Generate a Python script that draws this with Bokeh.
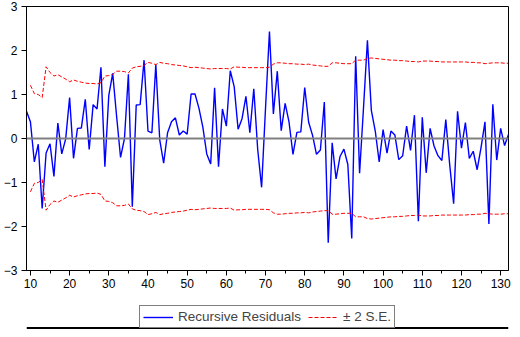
from bokeh.plotting import figure
from bokeh.layouts import column
from bokeh.models import Range1d, SingleIntervalTicker, Legend, LegendItem, Span
from bokeh.embed import file_html
from bokeh.resources import INLINE

# Observation index for the recursive residuals
obs = list(range(9, 133))
resid = [0.62, 0.38, -0.53, -0.13, -1.59, -0.33, -0.12, -0.86, 0.35, -0.35,
         -0.01, 0.93, -0.45, 0.23, 0.24, 0.89, -0.25, 0.77, 0.67, 1.62,
         -0.64, 0.98, 1.48, 0.5, -0.43, 0.0, 1.46, -1.55, 0.76, 0.77,
         1.78, 0.17, 0.13, 1.68, -0.03, -0.56, 0.13, 0.38, 0.47, 0.08,
         0.17, 0.1, 1.01, 1.01, 0.69, 0.26, -0.35, -0.58, 1.15, -0.64,
         0.67, 0.28, 1.54, 1.18, 0.21, 0.45, 0.96, 0.13, 1.13, -0.25,
         -1.11, 0.7, 2.43, 0.56, 1.53, 0.18, 0.8, 0.37, -0.36, 0.14,
         0.15, 1.16, 0.37, 0.07, -0.36, -0.26, 0.83, -2.37, -0.1, -0.92,
         -0.41, -0.24, -0.59, -2.27, 1.87, -0.79, 0.7, 2.23, 0.64, 0.17,
         -0.53, 0.2, -0.33, 0.17, 0.08, -0.48, -0.39, 0.28, -0.27, 0.53,
         -1.88, 0.48, -0.78, 0.23, -0.17, -0.39, -0.5, 0.43, -0.6, -1.48,
         0.62, -0.22, 0.36, -0.45, -0.29, -0.71, -0.2, 0.38, -1.94, 0.78,
         -0.49, 0.23, -0.16, 0.09]

# Observation index for the +/- 2 S.E. band
obs_se = list(range(10, 133))
se2 = [1.21, 1.02, 1.0, 0.93, 1.63, 1.5, 1.42, 1.45, 1.4, 1.35,
       1.29, 1.33, 1.3, 1.28, 1.26, 1.25, 1.25, 1.24, 1.27, 1.42,
       1.43, 1.46, 1.53, 1.53, 1.52, 1.49, 1.6, 1.63, 1.64, 1.66,
       1.73, 1.71, 1.68, 1.73, 1.71, 1.7, 1.68, 1.67, 1.66, 1.65,
       1.63, 1.61, 1.62, 1.61, 1.6, 1.59, 1.58, 1.59, 1.59, 1.59,
       1.59, 1.58, 1.63, 1.62, 1.62, 1.61, 1.61, 1.61, 1.61, 1.61,
       1.61, 1.62, 1.69, 1.72, 1.72, 1.71, 1.7, 1.7, 1.69, 1.69,
       1.68, 1.69, 1.67, 1.66, 1.65, 1.64, 1.64, 1.72, 1.72, 1.71,
       1.7, 1.7, 1.7, 1.78, 1.78, 1.78, 1.82, 1.83, 1.82, 1.81,
       1.8, 1.79, 1.78, 1.78, 1.77, 1.77, 1.76, 1.75, 1.75, 1.74,
       1.76, 1.76, 1.76, 1.75, 1.75, 1.74, 1.74, 1.74, 1.74, 1.74,
       1.74, 1.74, 1.73, 1.73, 1.72, 1.72, 1.7, 1.71, 1.72, 1.72,
       1.72, 1.71, 1.71]
upper = [v for v in se2]
lower = [-v for v in se2]

legend_labels = ["Recursive Residuals", "\u00b1 2 S.E."]

FONT = "Liberation Sans"
BLUE = "#0000FF"
RED = "#FF0000"
NAN = float("nan")

p = figure(width=512, height=294, output_backend="svg", toolbar_location=None,
           x_range=Range1d(9, 132), y_range=Range1d(-3, 3),
           min_border_left=22, min_border_right=4, min_border_top=6,
           min_border_bottom=24)
p.background_fill_color = "white"
p.border_fill_color = "white"
p.outline_line_color = "black"
p.outline_line_width = 1
p.xgrid.visible = False
p.ygrid.visible = False

p.xaxis.ticker = SingleIntervalTicker(interval=10, num_minor_ticks=2)
p.yaxis.ticker = SingleIntervalTicker(interval=1, num_minor_ticks=0)
for ax in (p.xaxis[0], p.yaxis[0]):
    ax.axis_line_color = "black"
    ax.major_tick_line_color = "black"
    ax.minor_tick_line_color = "black"
    ax.major_tick_in = 0
    ax.major_tick_out = 5
    ax.minor_tick_in = 0
    ax.minor_tick_out = 3
    ax.major_label_text_font = FONT
    ax.major_label_text_font_size = "12px"
    ax.major_label_text_color = "black"
p.xaxis.major_label_standoff = 3
p.yaxis.major_label_standoff = 4

p.add_layout(Span(location=0, dimension="width", line_color="#808080", line_width=2))

p.line(obs, resid, line_color=BLUE, line_width=1.4)
p.line(obs_se, upper, line_color=RED, line_width=1, line_dash="4 2")
p.line(obs_se, lower, line_color=RED, line_width=1, line_dash="4 2")

# legend strip underneath the chart
leg = figure(width=512, height=35, output_backend="svg", toolbar_location=None,
             x_range=Range1d(0, 1), y_range=Range1d(0, 35),
             x_axis_type=None, y_axis_type=None,
             min_border_left=0, min_border_right=0, min_border_top=0,
             min_border_bottom=0)
leg.xgrid.visible = False
leg.ygrid.visible = False
leg.outline_line_color = None
leg.background_fill_color = "white"
leg.border_fill_color = "white"
# legend proxies (no visible data)
s_res = leg.line([0.0, 1.0], [NAN, NAN], line_color=BLUE, line_width=1.4)
s_se = leg.line([0.0, 1.0], [NAN, NAN], line_color=RED, line_width=1.2, line_dash="4 2")

# bottom edge of the window frame
leg.add_layout(Span(location=1.5, dimension="width", line_color="black", line_width=2))

legend = Legend(items=[LegendItem(label=legend_labels[0], renderers=[s_res], index=0),
                       LegendItem(label=legend_labels[1], renderers=[s_se], index=0)],
                orientation="horizontal", location="bottom_center",
                label_text_font=FONT, label_text_font_size="13.5px",
                label_height=14, glyph_height=14, glyph_width=30,
                label_standoff=5, spacing=7, padding=3, margin=1,
                border_line_color="black", border_line_width=1,
                background_fill_color="white", background_fill_alpha=1)
leg.add_layout(legend, "center")

open("out.html", "w").write(file_html(column(p, leg), INLINE))
